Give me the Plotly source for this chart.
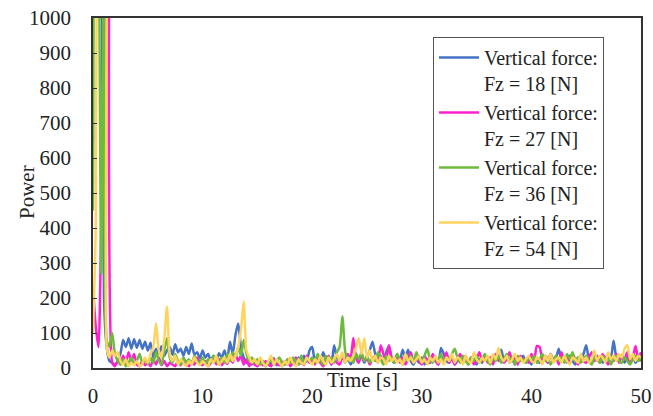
import plotly.graph_objects as go

STEP = 0.25
time_s = [i * STEP for i in range(201)]

fz18 = [650, 2000, 2000, 1500, 200, 60, 20, 15, 10, 20,
        40, 80, 60, 85, 55, 82, 58, 80, 55, 75,
        50, 72, 30, 55, 40, 62, 35, 50, 60, 38,
        68, 45, 55, 35, 60, 40, 70, 38, 45, 28,
        50, 30, 40, 22, 35, 20, 42, 30, 50, 25,
        75, 40, 95, 127, 60, 30, 15, 25, 10, 20,
        8, 25, 12, 5, 18, 10, 28, 8, 15, 5,
        20, 10, 25, 15, 8, 30, 12, 35, 18, 50,
        60, 20, 35, 15, 45, 25, 30, 10, 65, 30,
        20, 40, 15, 30, 10, 25, 40, 20, 35, 15,
        30, 50, 75, 40, 20, 35, 15, 45, 63, 25,
        15, 35, 20, 52, 30, 52, 20, 10, 25, 15,
        30, 10, 25, 15, 30, 20, 10, 57, 40, 20,
        15, 30, 10, 20, 35, 15, 25, 10, 30, 20,
        10, 25, 15, 35, 20, 30, 15, 40, 25, 52,
        20, 35, 15, 25, 10, 30, 20, 35, 15, 25,
        10, 30, 20, 15, 35, 25, 15, 40, 20, 30,
        55, 20, 30, 15, 35, 20, 10, 30, 25, 40,
        65, 25, 15, 35, 20, 30, 15, 25, 40, 30,
        78, 30, 20, 35, 15, 30, 20, 35, 15, 25,
        20]

fz27 = [230, 120, 60, 400, 800, 2500, 1800, 15, 5, 20,
        10, 35, 15, 45, 20, 40, 10, 5, 20, 8,
        15, 5, 25, 10, 30, 8, 20, 5, 15, 10,
        5, 20, 8, 25, 12, 5, 18, 10, 30, 15,
        8, 20, 5, 15, 30, 10, 25, 8, 20, 12,
        30, 15, 40, 20, 35, 10, 25, 5, 20, 10,
        5, 15, 8, 20, 10, 5, 25, 12, 8, 18,
        10, 25, 5, 15, 30, 10, 20, 8, 35, 15,
        25, 10, 30, 15, 5, 20, 35, 10, 25, 15,
        10, 30, 20, 40, 25, 86, 30, 15, 40, 20,
        30, 10, 25, 35, 15, 65, 40, 20, 65, 30,
        20, 40, 15, 30, 10, 25, 45, 15, 30, 20,
        10, 35, 20, 15, 40, 25, 10, 30, 20, 45,
        15, 30, 10, 25, 40, 20, 35, 15, 30, 10,
        25, 45, 20, 35, 15, 30, 10, 40, 20, 30,
        15, 25, 45, 20, 30, 10, 35, 20, 25, 15,
        40, 20, 63, 60, 25, 35, 15, 40, 20, 30,
        10, 45, 20, 30, 15, 40, 25, 10, 35, 20,
        15, 30, 45, 20, 35, 15, 40, 25, 10, 30,
        20, 40, 15, 35, 25, 45, 20, 30, 63, 25,
        45]

fz36 = [450, 2500, 1500, 270, 1200, 80, 60, 100, 40, 20,
        10, 25, 5, 15, 30, 10, 20, 40, 15, 25,
        10, 30, 15, 45, 20, 10, 50, 86, 30, 15,
        40, 20, 10, 30, 15, 25, 10, 35, 20, 15,
        30, 10, 25, 15, 35, 20, 10, 30, 15, 40,
        20, 45, 30, 60, 35, 80, 40, 20, 30, 15,
        25, 10, 20, 5, 15, 25, 10, 20, 30, 15,
        10, 25, 15, 30, 20, 10, 35, 15, 25, 20,
        30, 15, 40, 25, 10, 35, 20, 30, 15, 45,
        60, 148, 50, 20, 30, 15, 40, 25, 45, 20,
        35, 15, 30, 20, 45, 25, 10, 35, 20, 30,
        15, 40, 25, 10, 30, 20, 35, 15, 45, 25,
        20, 35, 55, 25, 15, 30, 20, 40, 15, 30,
        25, 40, 55, 30, 15, 35, 20, 10, 30, 20,
        35, 15, 25, 40, 20, 10, 30, 20, 35, 15,
        25, 40, 20, 30, 10, 35, 20, 25, 15, 30,
        20, 35, 15, 25, 40, 20, 30, 10, 25, 35,
        20, 30, 15, 40, 25, 45, 20, 30, 15, 25,
        35, 20, 10, 30, 25, 15, 35, 20, 30, 10,
        25, 35, 20, 15, 30, 20, 10, 25, 35, 20,
        30]

fz54 = [100, 400, 2500, 2000, 2000, 60, 30, 50, 35, 45,
        20, 10, 25, 5, 15, 8, 20, 5, 12, 30,
        15, 40, 60, 128, 50, 30, 80, 175, 40, 20,
        35, 10, 25, 15, 5, 20, 10, 30, 15, 8,
        20, 10, 5, 25, 15, 35, 10, 20, 30, 15,
        40, 20, 35, 60, 110, 190, 50, 30, 15, 25,
        10, 30, 15, 5, 20, 35, 10, 25, 15, 5,
        20, 10, 30, 15, 5, 25, 15, 10, 30, 20,
        10, 25, 15, 35, 20, 10, 30, 15, 25, 40,
        20, 45, 15, 30, 20, 35, 60, 85, 40, 85,
        30, 50, 20, 35, 15, 30, 25, 10, 35, 20,
        30, 15, 25, 10, 40, 20, 30, 15, 25, 35,
        15, 25, 10, 30, 20, 35, 15, 25, 10, 30,
        20, 40, 15, 30, 25, 10, 35, 20, 15, 45,
        25, 15, 30, 20, 35, 15, 40, 25, 57, 30,
        20, 35, 15, 25, 40, 20, 30, 15, 25, 35,
        20, 15, 30, 25, 10, 35, 20, 40, 15, 25,
        30, 15, 35, 20, 10, 30, 25, 15, 40, 20,
        30, 15, 25, 50, 20, 35, 30, 15, 45, 25,
        35, 20, 40, 30, 55, 65, 25, 40, 20, 35,
        30]

series_names = ["Vertical force:<br>Fz = 18 [N]", "Vertical force:<br>Fz = 27 [N]",
                "Vertical force:<br>Fz = 36 [N]", "Vertical force:<br>Fz = 54 [N]"]
series_values = [fz18, fz27, fz36, fz54]
colors = ["#4472C4", "#FF1FD0", "#6CBB3C", "#FFD45E"]

x_ticks = [0, 10, 20, 30, 40, 50]
y_ticks = list(range(0, 1001, 100))

FONT = "Liberation Serif"
FS = 21
TXT = "#222222"
TF = dict(family=FONT, size=FS, color=TXT)
LF = dict(family=FONT, size=20, color=TXT)

fig = go.Figure()
for name, vals, col in zip(series_names, series_values, colors):
    fig.add_trace(go.Scatter(x=time_s, y=vals, name=name, mode="lines",
                             line=dict(color=col, width=2.5, shape="spline", smoothing=0.6)))

fig.update_layout(
    width=653, height=416,
    margin=dict(l=93, r=12, t=18, b=48, autoexpand=False),
    paper_bgcolor="white", plot_bgcolor="white",
    font=TF,
    showlegend=True,
    legend=dict(x=(433 - 93) / 548, y=(368 - 37) / 350, xanchor="left", yanchor="top",
                bordercolor="#555555", borderwidth=1, bgcolor="white",
                font=LF, tracegroupgap=0, itemwidth=40, valign="top"),
    xaxis=dict(range=[0, 50], tickvals=x_ticks,
               showgrid=False, zeroline=False,
               showline=True, linecolor="#333333", linewidth=1.5, mirror=True,
               ticks="", ticklabelstandoff=8, automargin=False, tickfont=TF),
    yaxis=dict(range=[0, 1000], tickvals=y_ticks,
               showgrid=False, zeroline=False,
               showline=True, linecolor="#333333", linewidth=1.5, mirror=True,
               ticks="inside", ticklen=4, tickcolor="#333333", ticklabelstandoff=16,
               automargin=False, tickfont=TF),
    annotations=[
        dict(text="Time [s]", xref="paper", yref="paper", x=(362 - 93) / 548, y=-0.035,
             xanchor="center", yanchor="middle", showarrow=False, font=TF),
        dict(text="Power", xref="paper", yref="paper", x=(27 - 93) / 548, y=(368 - 192) / 350,
             xanchor="center", yanchor="middle", showarrow=False, textangle=-90, font=TF),
    ],
)

fig.write_html("out.html")
